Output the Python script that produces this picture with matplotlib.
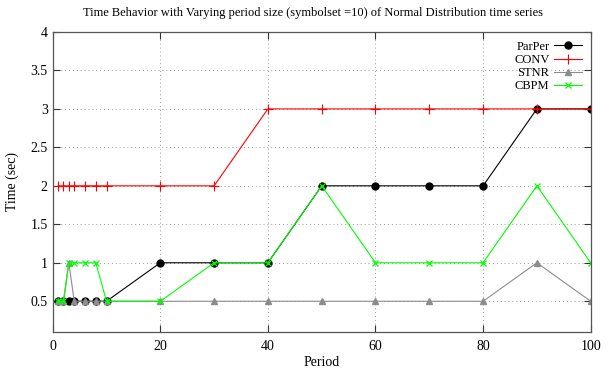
import matplotlib
matplotlib.use("Agg")
import matplotlib.pyplot as plt

# tailles de periode testees
periodes = [1, 2, 3, 4, 6, 8, 10, 20, 30, 40, 50, 60, 70, 80, 90, 100]

# temps mesures (sec) par methode
parper = [0.5, 0.5, 0.5, 0.5, 0.5, 0.5, 0.5, 1, 1, 1, 2, 2, 2, 2, 3, 3]
conv = [2, 2, 2, 2, 2, 2, 2, 2, 2, 3, 3, 3, 3, 3, 3, 3]
stnr = [0.5, 0.5, 1, 0.5, 0.5, 0.5, 0.5, 0.5, 0.5, 0.5, 0.5, 0.5, 0.5, 0.5, 1, 0.5]
cbpm = [0.5, 0.5, 1, 1, 1, 1, 0.5, 0.5, 1, 1, 2, 1, 1, 1, 2, 1]

xticks = [0, 20, 40, 60, 80, 100]
yticks = [0.5, 1, 1.5, 2, 2.5, 3, 3.5, 4]
ytick_labels = ["0.5", "1", "1.5", "2", "2.5", "3", "3.5", "4"]

plt.rcParams['font.family'] = ['Liberation Serif', 'DejaVu Serif']

fig = plt.figure(figsize=(6.13, 3.76), dpi=100)
ax = fig.add_axes([0.086, 0.117, 0.8776, 0.798])

ax.plot(periodes, parper, color='black', lw=0.8, marker='o', ms=5, label='ParPer')
ax.plot(periodes, conv, color='#ff0000', lw=0.8, marker='+', ms=7, mew=0.8, label='CONV')
ax.plot(periodes, stnr, color='#8c8c8c', lw=0.8, marker='^', ms=4.5, label='STNR')
ax.plot(periodes, cbpm, color='#00ff00', lw=0.8, marker='x', ms=5, mew=0.9, label='CBPM')

ax.set_xlim(0, 100)
ax.set_ylim(0.1, 4)
ax.set_xticks(xticks)
ax.set_yticks(yticks)
ax.set_yticklabels(ytick_labels)
ax.tick_params(direction='in', length=5, top=True, right=True, labelsize=10, width=0.8, color='#333333')
ax.tick_params(axis='x', pad=6)
ax.grid(True, ls=(0, (1, 3)), color='#999999', lw=0.7)
ax.set_axisbelow(True)
for s in ax.spines.values():
    s.set_color('#555555')
    s.set_linewidth(0.9)

ax.set_xlabel('Period', fontsize=10, labelpad=2)
ax.set_ylabel('Time (sec)', fontsize=10, labelpad=8)
fig.text(0.51, 0.965, 'Time Behavior with Varying period size (symbolset =10) of Normal Distribution time series',
         ha='center', va='center', fontsize=9)

ax.legend(loc='upper right', frameon=False, markerfirst=False, fontsize=9,
          handlelength=2.2, handletextpad=0.4, labelspacing=0.1, borderaxespad=0.3)

fig.savefig('out.png', dpi=100)
